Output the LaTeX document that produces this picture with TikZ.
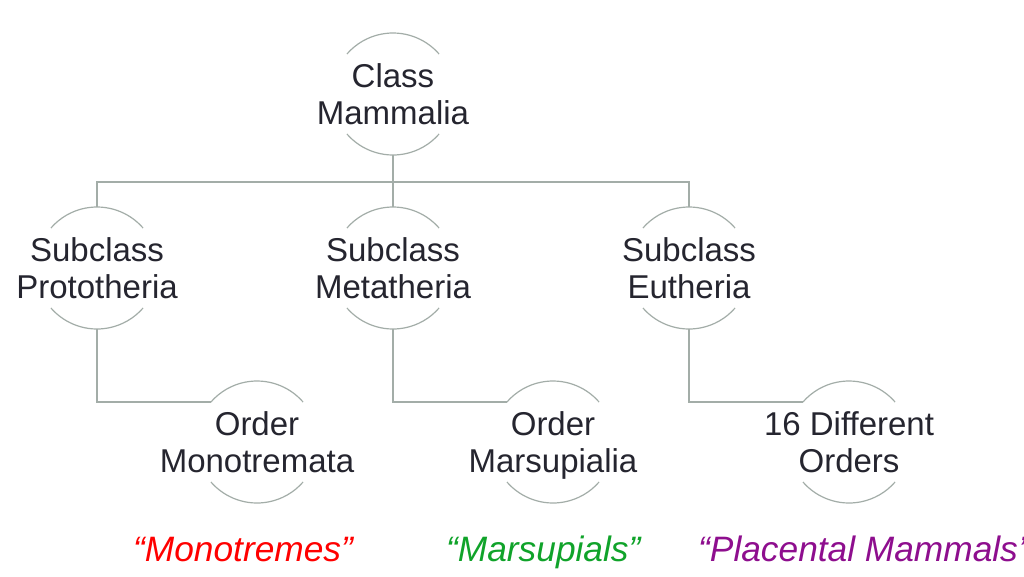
\documentclass[tikz,border=0pt]{standalone}
\usepackage{fontspec}
\setmainfont{Liberation Sans}
\definecolor{lncol}{HTML}{A3ADA8}
\definecolor{txcol}{HTML}{25252F}
\definecolor{mred}{HTML}{FF0000}
\definecolor{mgreen}{HTML}{10A32A}
\definecolor{mpurple}{HTML}{8E0E8E}
\begin{document}
\begin{tikzpicture}[x=1pt,y=1pt,
  circ/.style={circle,minimum size=122pt,inner sep=0pt,outer sep=0pt,draw=none},
  txt/.style={align=center,inner sep=0pt,text=txcol,yshift=-3pt,font=\fontsize{33}{37}\selectfont},
  ln/.style={draw=lncol,line width=1.2pt},
  common/.style={anchor=base west,inner sep=0pt,font=\fontsize{35.3}{40}\selectfont\itshape}]
\useasboundingbox[fill=white] (0,0) rectangle (1024,-576);
% circles
\node[circ] (cm) at (393,-94) {};
\node[circ] (pt) at (97,-268) {};
\node[circ] (mt) at (393,-268) {};
\node[circ] (et) at (689,-268) {};
\node[circ] (om) at (257,-442) {};
\node[circ] (oa) at (553,-442) {};
\node[circ] (oe) at (849,-442) {};
\foreach \n in {cm,pt,mt,et,om,oa,oe}{
  \draw[ln] (\n.41) arc[start angle=41,end angle=139,radius=61pt];
  \draw[ln] (\n.221) arc[start angle=221,end angle=319,radius=61pt];
}
% texts
\node[txt] (tcm) at (cm) {Class\\Mammalia\vphantom{p}};
\node[txt] (tpt) at (pt) {Subclass\\Prototheria\vphantom{p}};
\node[txt] (tmt) at (mt) {Subclass\\Metatheria\vphantom{p}};
\node[txt] (tet) at (et) {Subclass\\Eutheria\vphantom{p}};
\node[txt] (tom) at (om) {Order\\Monotremata\vphantom{p}};
\node[txt] (toa) at (oa) {Order\\Marsupialia\vphantom{p}};
\node[txt] (toe) at (oe) {16 Different\\Orders\vphantom{p}};
% connectors
\coordinate (bar) at (393,-182);
\draw[ln] (cm.south) -- (mt.north);
\draw[ln] (pt.north) |- (bar) -| (et.north);
\draw[ln] (pt.south) |- (om.139);
\draw[ln] (mt.south) |- (oa.139);
\draw[ln] (et.south) |- (oe.139);
% common names
\node[common,text=mred] (cn1) at (133,-561) {“Monotremes”};
\node[common,text=mgreen] (cn2) at (446,-561) {“Marsupials”};
\node[common,text=mpurple] (cn3) at (698,-561) {“Placental Mammals’};
\end{tikzpicture}
\end{document}
